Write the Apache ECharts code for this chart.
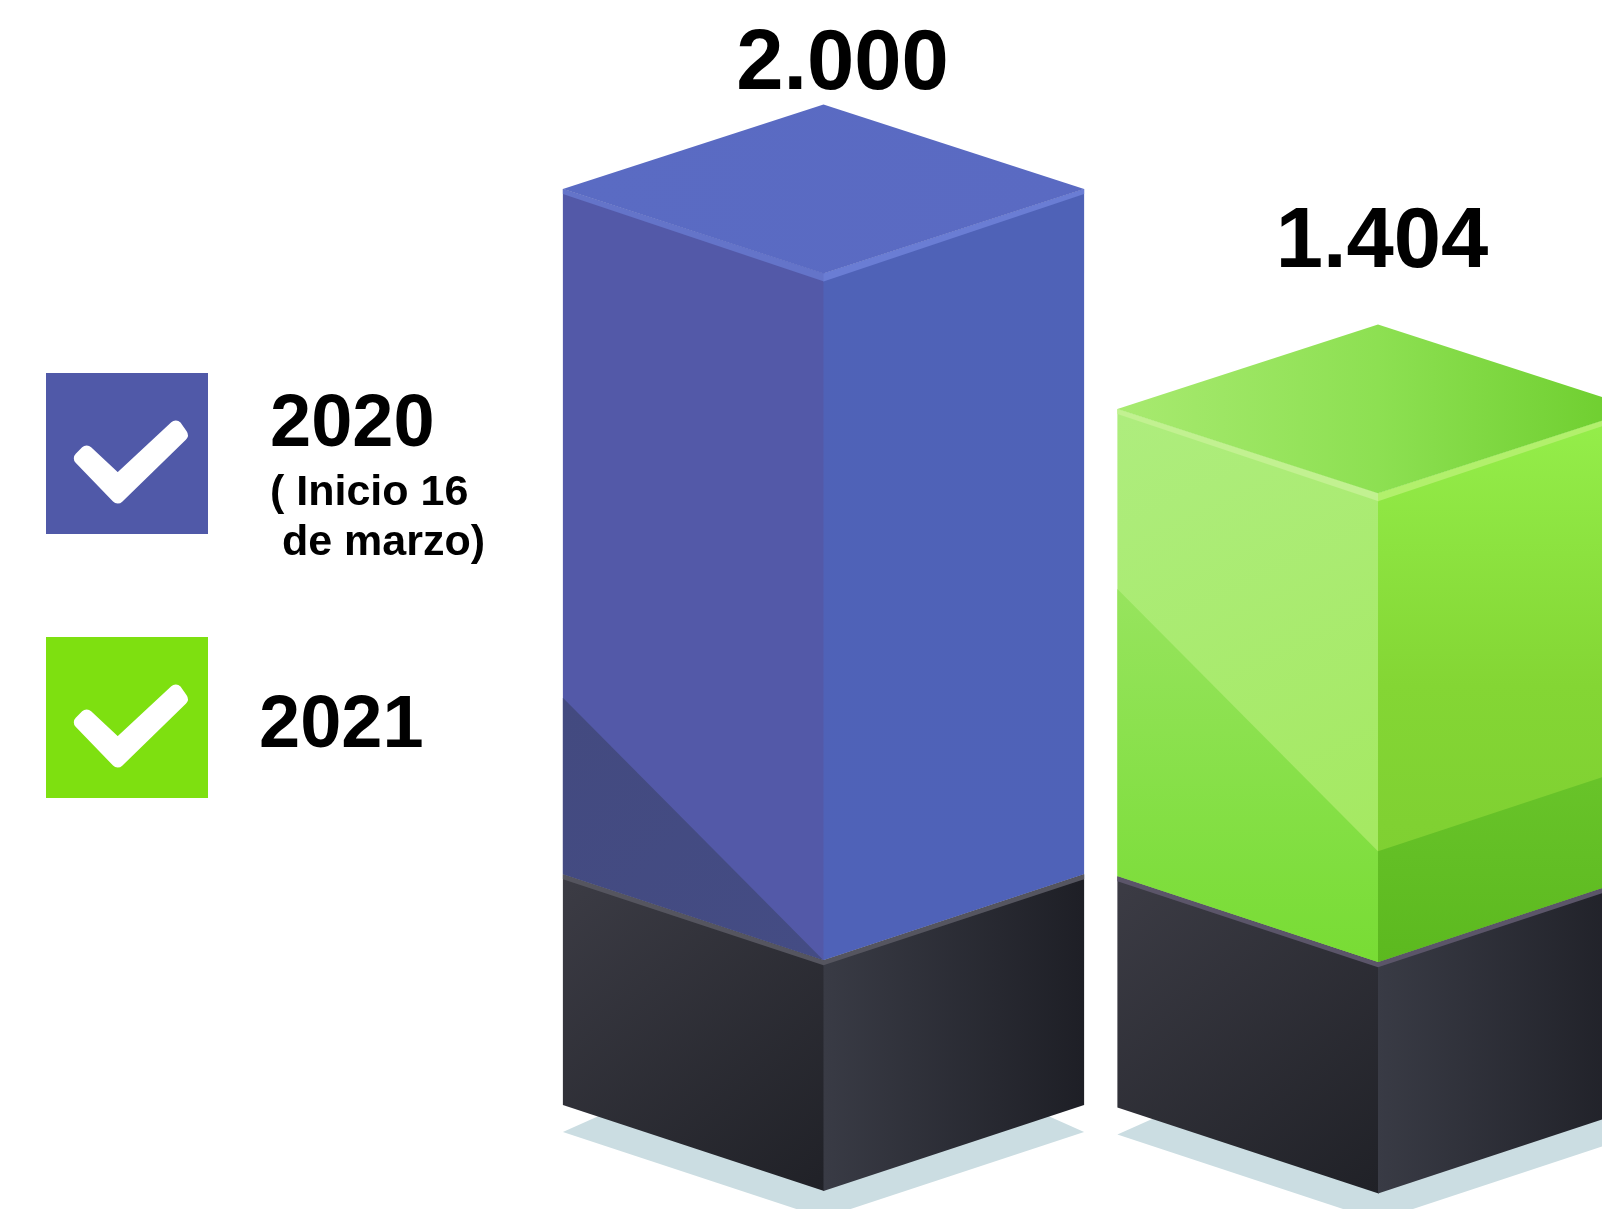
<!DOCTYPE html>
<html>
<head>
<meta charset="utf-8">
<style>
  html, body { margin: 0; padding: 0; background: #fff; }
  #chart { width: 1602px; height: 1209px; }
</style>
<script src="https://cdn.jsdelivr.net/npm/echarts@6/dist/echarts.min.js"></script>
</head>
<body>
<div id="chart"></div>
<script>
// Chart values
const categories = ['2020', '2021'];
const barValues = [2000, 1404];
// Plinth under each block, on the same value scale
const plinthTop = [138.7, 133];
const plinthBottom = [-487, -494];

// Legend wording
const legendTitles = ['2020', '2021'];
const legendNote = ['( Inicio 16', ' de marzo)'];

// Block paint, one entry per bar
const lg = (x, y, x2, y2, stops) => new echarts.graphic.LinearGradient(
  x, y, x2, y2, stops.map((c, i) => ({ offset: i / (stops.length - 1), color: c })));

const blockPaint = [
  {
    top: lg(0, 0, 1, 0, ['#5a6bc3', '#5a6ac2']),
    edgeLeft: '#6474c9', edgeRight: '#6a7dd4',
    left: lg(0, 0, 1, 1, ['#5359a8', '#5359a8']),
    right: lg(0, 0, 0, 1, ['#4f62b7', '#4f62b8']),
    shadeLeft: lg(0, 0, 1, 1, ['#434a80', '#444c84']),
    shadeRight: null,
    seam: '#55555f',
    shadeLift: 0
  },
  {
    top: lg(0, 0, 1, 0, ['#a8ea70', '#8de052', '#6ccd2c']),
    edgeLeft: '#c2f191', edgeRight: '#b2f06c',
    left: lg(0, 0, 1, 1, ['#aeed7e', '#a3e85c']),
    right: lg(0, 0, 0, 1, ['#95ef4b', '#84d634', '#7ccc30']),
    shadeLeft: lg(0, 0, 0, 1, ['#97e45e', '#78dc34']),
    shadeRight: lg(0, 0, 0, 1, ['#69c42a', '#5cb91f']),
    seam: '#5b5569',
    shadeLift: 111
  }
];

// Where each value label sits relative to the block's top corner
const labelShift = [[19, 3], [4, -38]];

const SEAM = 5, EDGE = 8, EDGE_OUTER = 5, SKEW = 0.324, PLINTH_SKEW = 0.33, BLOCK_RATIO = 0.47;
const GROUND_GAP = 27, GROUND_RISE = 1.35, SHADE_SLOPE = 3.05, OVERLAP = 0.6;

const poly = (points, fill) => ({
  type: 'polygon',
  shape: { points },
  style: { fill },
  silent: true
});

const formatValue = v => String(v).replace(/\B(?=(\d{3})+$)/g, '.');

function renderBlock(params, api) {
  const i = params.dataIndex;
  const paint = blockPaint[i];
  const [cx, yFront] = api.coord([api.value(0), api.value(1)]);
  const halfW = api.size([1, 0])[0] * BLOCK_RATIO;
  const d = halfW * SKEW;
  const p = halfW * PLINTH_SKEW;
  const L = cx - halfW, R = cx + halfW;
  const cl = cx + OVERLAP;
  const yPlinth = api.coord([api.value(0), plinthTop[i]])[1];
  const yFloor = api.coord([api.value(0), plinthBottom[i]])[1];
  const yShade = yPlinth - paint.shadeLift;
  const yGround = yFloor - p + GROUND_GAP;
  const shift = labelShift[i];

  const children = [
    // ground shadow
    poly([[L, yGround], [cx, yGround - p * GROUND_RISE], [R, yGround], [cx, yGround + p]], '#cbdde2'),
    // plinth
    poly([[L, yPlinth - p], [cl, yPlinth], [cl, yFloor], [L, yFloor - p]],
         lg(0, 0, 1, 1, ['#3c3c45', '#202127'])),
    poly([[cx, yPlinth], [R, yPlinth - p], [R, yFloor - p], [cx, yFloor]],
         lg(0, 0, 1, 0, ['#393b45', '#1e1f26'])),
    // block faces
    poly([[L, yFront - d], [cl, yFront], [cl, yPlinth], [L, yPlinth - p]], paint.left),
    poly([[cx, yFront], [R, yFront - d], [R, yPlinth - p], [cx, yPlinth]], paint.right),
    // darker lower part of the left face
    poly([[L, yShade - p * SHADE_SLOPE], [cx, yShade], [cx, yPlinth], [L, yPlinth - p]], paint.shadeLeft)
  ];
  if (paint.shadeRight) {
    children.push(poly([[cx, yShade], [R, yShade - p], [R, yPlinth - p], [cx, yPlinth]], paint.shadeRight));
  }
  children.push(
    // seam between block and plinth
    poly([[L, yPlinth - p], [cx, yPlinth], [R, yPlinth - p],
          [R, yPlinth - p + SEAM], [cx, yPlinth + SEAM], [L, yPlinth - p + SEAM]], paint.seam),
    // lit rim under the top face
    poly([[L, yFront - d], [cl, yFront], [cl, yFront + EDGE], [L, yFront - d + EDGE_OUTER]], paint.edgeLeft),
    poly([[cx, yFront], [R, yFront - d], [R, yFront - d + EDGE_OUTER], [cx, yFront + EDGE]], paint.edgeRight),
    // top face
    poly([[L, yFront - d], [cx, yFront - 2 * d], [R, yFront - d], [cx, yFront]], paint.top),
    // value label
    {
      type: 'text',
      silent: true,
      style: {
        text: formatValue(api.value(1)),
        x: cx + shift[0],
        y: yFront - 2 * d + shift[1],
        align: 'center',
        verticalAlign: 'bottom',
        fill: '#000',
        font: 'bold 85px "Liberation Sans", Arial, sans-serif'
      }
    }
  );
  return { type: 'group', children };
}

// Legend swatch with its tick mark
function swatch(x, y, color) {
  const tick = [[34.3, 85.3], [40.7, 79], [71.7, 108], [129.7, 54], [135.3, 62], [71.7, 124]];
  return [
    { type: 'rect', shape: { x, y, width: 162, height: 161 }, style: { fill: color }, silent: true },
    {
      type: 'polygon',
      shape: { points: tick.map(p => [x + p[0], y + p[1]]) },
      style: { fill: '#fff', stroke: '#fff', lineWidth: 13, lineJoin: 'round' },
      silent: true
    }
  ];
}

const legendText = (text, x, y, size) => ({
  type: 'text',
  silent: true,
  style: {
    text, x, y,
    align: 'left',
    verticalAlign: 'middle',
    fill: '#000',
    font: 'bold ' + size + 'px "Liberation Sans", Arial, sans-serif'
  }
});

const chart = echarts.init(document.getElementById('chart'));
chart.setOption({
  animation: false,
  backgroundColor: '#fff',
  grid: { left: 546.25, width: 1109, top: 273.5, height: 922.25, outerBoundsMode: 'none' },
  xAxis: { type: 'category', data: categories, show: false },
  yAxis: { type: 'value', min: -500, max: 2000, interval: 500, show: false },
  series: [{
    type: 'custom',
    clip: false,
    renderItem: renderBlock,
    encode: { x: 0, y: 1 },
    data: barValues.map((v, i) => [i, v])
  }],
  graphic: {
    elements: [
      ...swatch(46, 373, '#5059a8'),
      ...swatch(46, 637, '#7ee010'),
      legendText(legendTitles[0], 270, 426, 74),
      legendText(legendNote[0], 270, 493, 43),
      legendText(legendNote[1], 270, 543, 43),
      legendText(legendTitles[1], 259, 727, 74)
    ]
  }
});
</script>
</body>
</html>
